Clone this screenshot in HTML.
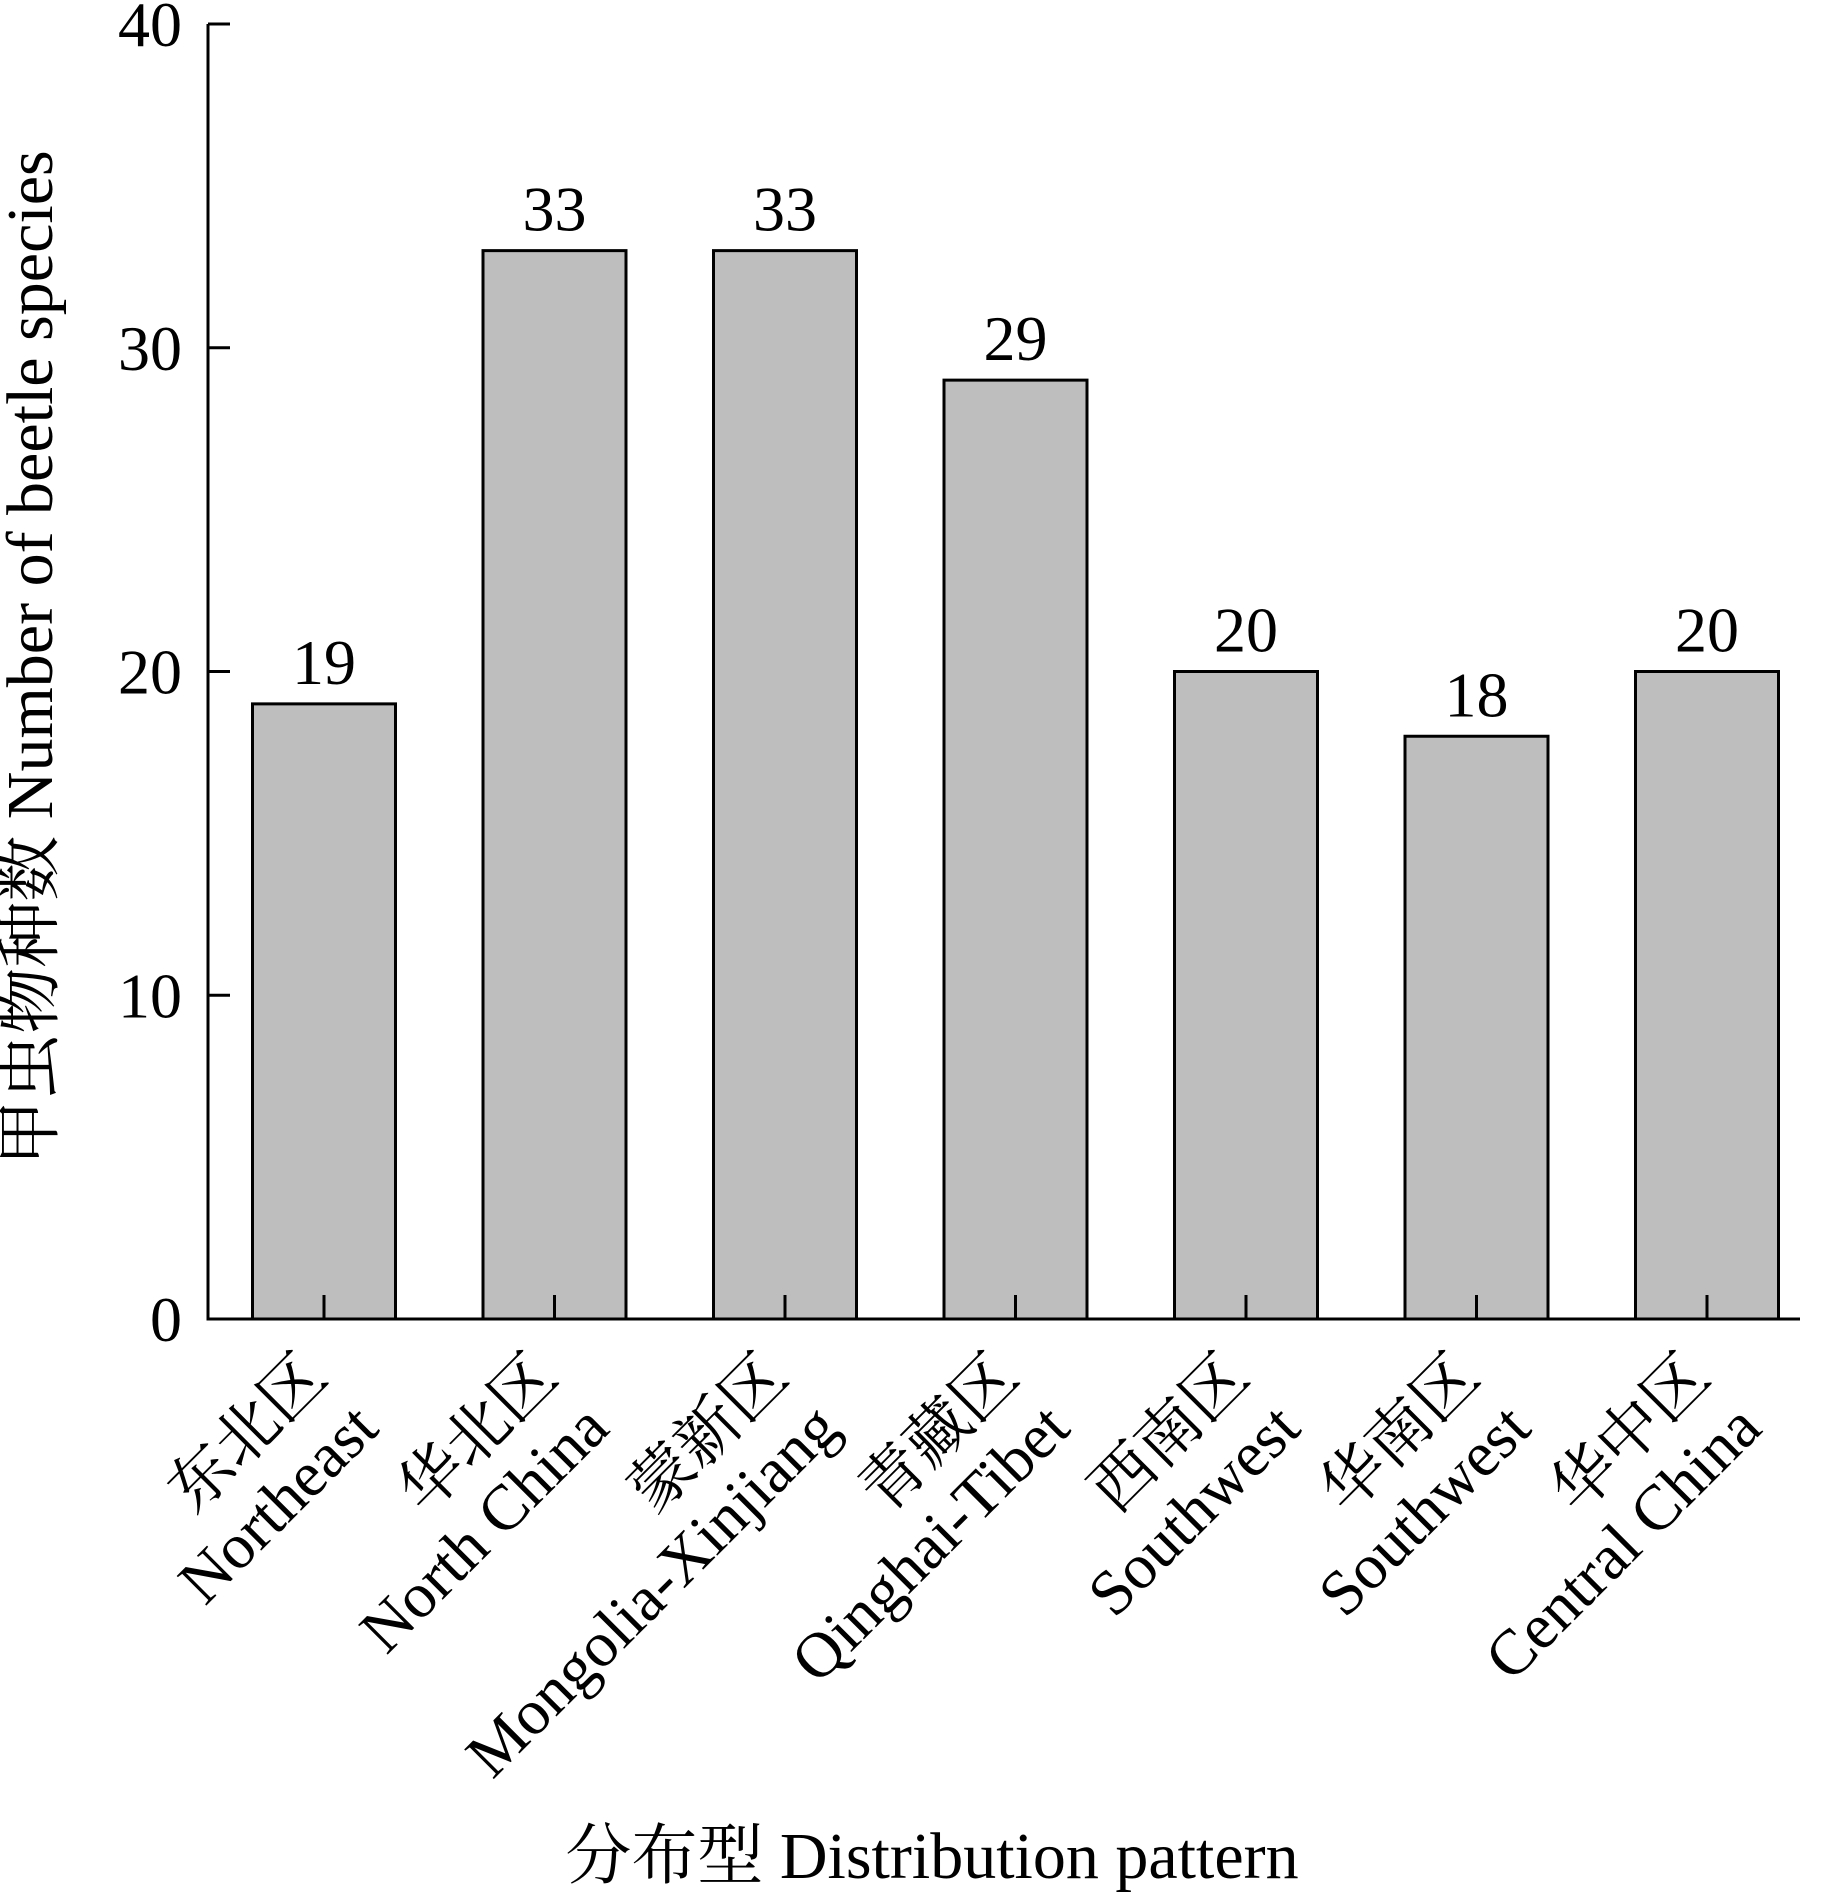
<!DOCTYPE html>
<html><head><meta charset="utf-8"><style>
html,body{margin:0;padding:0;background:#fff;}
svg text{font-family:"Liberation Serif","Noto Serif CJK SC","Noto Sans CJK SC",serif;fill:#000;}
</style></head><body>
<svg id="chart" width="1827" height="1895" xmlns="http://www.w3.org/2000/svg"></svg>
<script>
const categoriesCn = ["东北区","华北区","蒙新区","青藏区","西南区","华南区","华中区"];
const categoriesEn = ["Northeast","North China","Mongolia-Xinjiang","Qinghai-Tibet","Southwest","Southwest","Central China"];
const values = [19,33,33,29,20,18,20];
const yTicks = [0,10,20,30,40];

const NS="http://www.w3.org/2000/svg";
const svg=document.getElementById('chart');
const X0=208, X1=1800, Y0=1319, Ytop=24, yMax=40;
const step=230.5, firstCenter=324, barW=143;
function yS(v){return Y0-(v/yMax)*(Y0-Ytop);}
function xS(i){return firstCenter+i*step;}
function mk(tag,attrs){const e=document.createElementNS(NS,tag);for(const k in attrs)e.setAttribute(k,attrs[k]);svg.appendChild(e);return e;}

values.forEach((v,i)=>{
  const r=mk('rect',{x:xS(i)-barW/2,y:yS(v),width:barW,height:Y0-yS(v),fill:'#bebebe',stroke:'#000','stroke-width':3});
  
  
  const t=mk('text',{x:xS(i),y:yS(v)-20,'font-size':64,'text-anchor':'middle'});
  t.textContent=v;
  
  
  const tk=mk('line',{x1:xS(i),x2:xS(i),y1:Y0,y2:Y0-24,stroke:'#000','stroke-width':3});
  
  
  const ax=xS(i)+6, ay=1380;
  const lab=mk('text',{transform:`translate(${ax},${ay}) rotate(-45)`,'font-size':64,'text-anchor':'end'});
  
  
  const s1=document.createElementNS(NS,'tspan');s1.setAttribute('x',0);s1.setAttribute('y',0);s1.textContent=categoriesCn[i];lab.appendChild(s1);
  const s2=document.createElementNS(NS,'tspan');s2.setAttribute('x',0);s2.setAttribute('y',72);s2.textContent=categoriesEn[i];lab.appendChild(s2);
});
yTicks.forEach(v=>{
  const l=mk('line',{x1:X0,x2:X0+22,y1:yS(v),y2:yS(v),stroke:'#000','stroke-width':3});
  
  
  const t=mk('text',{x:182,y:yS(v)+22,'font-size':64,'text-anchor':'end'});
  t.textContent=v;
  
  
});
const ya=mk('line',{x1:X0,x2:X0,y1:Ytop,y2:Y0+1.5,stroke:'#000','stroke-width':3});


const xa=mk('line',{x1:X0-1.5,x2:X1,y1:Y0,y2:Y0,stroke:'#000','stroke-width':3});


const yt=mk('text',{transform:'translate(52,658) rotate(-90)','font-size':66,'text-anchor':'middle'});
yt.textContent='甲虫物种数 Number of beetle species';


const xt=mk('text',{x:932,y:1878,'font-size':66,'text-anchor':'middle'});
xt.textContent='分布型 Distribution pattern';


</script>
</body></html>
